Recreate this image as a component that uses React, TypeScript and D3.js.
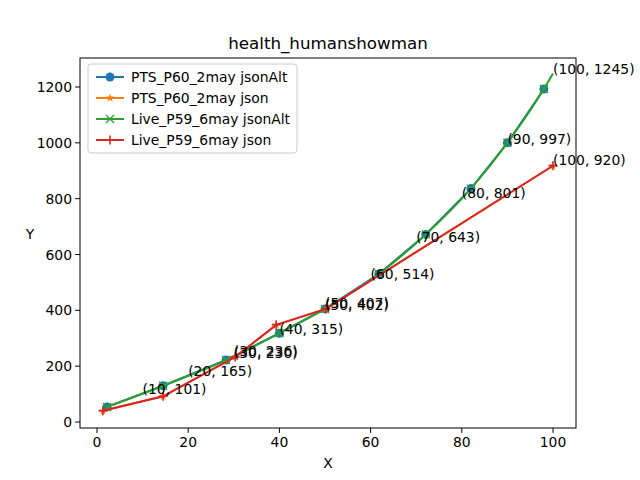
import React from "react";
import * as d3 from "d3";

const blueX = [2.2, 14.5, 28.3, 40, 50, 61.8, 72.1, 82, 90, 98];
const blueY = [54, 130, 222, 318, 405, 530, 672, 836, 1000, 1193];
const greenX = [2.2, 14.5, 28.3, 40, 50, 61.8, 72.1, 82, 90, 98, 100];
const greenY = [54, 130, 222, 318, 405, 530, 672, 836, 1000, 1193, 1248];
const redX = [1.3, 14.5, 30.3, 39.3, 50.2, 100];
const redY = [40, 92, 233, 348, 405, 918];
const annX = [10, 20, 30, 30, 40, 50, 50, 60, 70, 80, 90, 100, 100];
const annY = [101, 165, 230, 236, 315, 402, 407, 514, 643, 801, 997, 1245, 920];
const xTicks = [0, 20, 40, 60, 80, 100];
const yTicks = [0, 200, 400, 600, 800, 1000, 1200];
const legendLabels = ["PTS_P60_2may jsonAlt", "PTS_P60_2may json", "Live_P59_6may jsonAlt", "Live_P59_6may json"];
const colors = ["#1f77b4", "#ff7f0e", "#2ca02c", "#d62728"];

const L = 80, R = 576, T = 58, B = 428;
const x = d3.scaleLinear().domain([0, 100]).range([97, 553]);
const y = d3.scaleLinear().domain([0, 1200]).range([422, 87]);
const F = "DejaVu Sans, sans-serif";
const LW = 2;

function star(cx: number, cy: number, r: number) {
  const pts: string[] = [];
  for (let i = 0; i < 10; i++) {
    const a = -Math.PI / 2 + (i * Math.PI) / 5;
    const rr = i % 2 === 0 ? r : r * 0.4;
    pts.push(`${cx + rr * Math.cos(a)},${cy + rr * Math.sin(a)}`);
  }
  return pts.join(" ");
}

function Marker({ kind, cx, cy, c }: { kind: number; cx: number; cy: number; c: string }) {
  if (kind === 0) return <circle cx={cx} cy={cy} r={4.5} fill={c} />;
  if (kind === 1) return <polygon points={star(cx, cy, 4.5)} fill={c} />;
  if (kind === 2)
    return (
      <g stroke={c} strokeWidth={1.3}>
        <line x1={cx - 4} y1={cy - 4} x2={cx + 4} y2={cy + 4} />
        <line x1={cx - 4} y1={cy + 4} x2={cx + 4} y2={cy - 4} />
      </g>
    );
  return (
    <g stroke={c} strokeWidth={1.6}>
      <line x1={cx - 4.5} y1={cy} x2={cx + 4.5} y2={cy} />
      <line x1={cx} y1={cy - 4.5} x2={cx} y2={cy + 4.5} />
    </g>
  );
}

export default function App() {
  const path = (xs: number[], ys: number[], curve: d3.CurveFactory) =>
    d3.line<number>().x((d) => x(d)).y((_, i) => y(ys[i])).curve(curve)(xs) || "";
  return (
    <svg width={640} height={480} style={{ position: "absolute", left: 0, top: 0 }}>
      <rect width={640} height={480} fill="white" />
      <path d={path(blueX, blueY, d3.curveLinear)} stroke={colors[0]} strokeWidth={LW} fill="none" />
      {blueX.map((d, i) => <Marker key={i} kind={0} cx={x(d)} cy={y(blueY[i])} c={colors[0]} />)}
      <path d={path(redX, redY, d3.curveLinear)} stroke={colors[1]} strokeWidth={LW} fill="none" />
      {redX.map((d, i) => <Marker key={i} kind={1} cx={x(d)} cy={y(redY[i])} c={colors[1]} />)}
      <path d={path(greenX, greenY, d3.curveMonotoneX)} stroke={colors[2]} strokeWidth={LW} fill="none" />
      {blueX.map((d, i) => <Marker key={i} kind={2} cx={x(d)} cy={y(blueY[i])} c={colors[2]} />)}
      <path d={path(redX, redY, d3.curveLinear)} stroke={colors[3]} strokeWidth={LW} fill="none" />
      {redX.map((d, i) => <Marker key={i} kind={3} cx={x(d)} cy={y(redY[i])} c={colors[3]} />)}
      {annX.map((d, i) => (
        <text key={i} x={x(d)} y={y(annY[i])} fontFamily={F} fontSize={13.9}>({d}, {annY[i]})</text>
      ))}
      <rect x={L} y={T} width={R - L} height={B - T} fill="none" stroke="black" strokeWidth={1} />
      {xTicks.map((t) => (
        <g key={t}>
          <line x1={x(t)} x2={x(t)} y1={B} y2={B + 4.9} stroke="black" />
          <text x={x(t)} y={B + 19} textAnchor="middle" fontFamily={F} fontSize={13.9}>{t}</text>
        </g>
      ))}
      {yTicks.map((t) => (
        <g key={t}>
          <line x1={L - 4.9} x2={L} y1={y(t)} y2={y(t)} stroke="black" />
          <text x={L - 8} y={y(t) + 5} textAnchor="end" fontFamily={F} fontSize={13.9}>{t}</text>
        </g>
      ))}
      <text x={(L + R) / 2} y={468} textAnchor="middle" fontFamily={F} fontSize={13.9}>X</text>
      <text x={30} y={239} textAnchor="middle" fontFamily={F} fontSize={13.9}>Y</text>
      <text x={(L + R) / 2} y={49} textAnchor="middle" fontFamily={F} fontSize={16.7}>health_humanshowman</text>
      <rect x={88} y={64} width={209} height={89} rx={3} fill="white" fillOpacity={0.8} stroke="#cccccc" />
      {legendLabels.map((l, i) => (
        <g key={i}>
          <line x1={96} x2={124} y1={77 + i * 21} y2={77 + i * 21} stroke={colors[i]} strokeWidth={LW} />
          <Marker kind={i} cx={110} cy={77 + i * 21} c={colors[i]} />
          <text x={131} y={82 + i * 21} fontFamily={F} fontSize={13.9}>{l}</text>
        </g>
      ))}
    </svg>
  );
}
